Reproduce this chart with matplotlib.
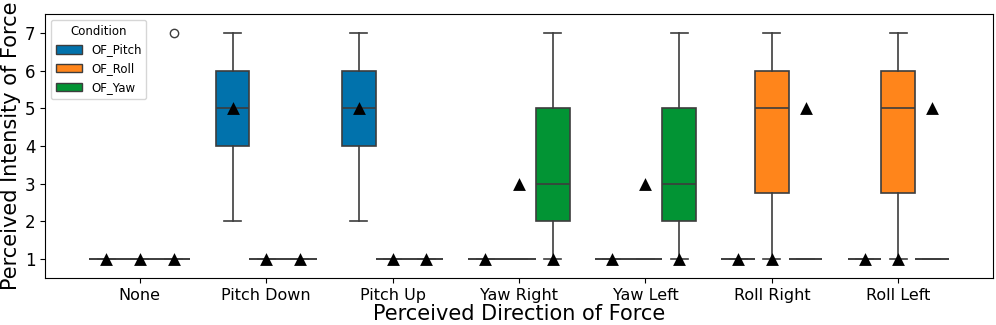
import matplotlib
matplotlib.use("Agg")
import matplotlib.pyplot as plt
from matplotlib.patches import Patch
import numpy as np

categories = ["None", "Pitch Down", "Pitch Up", "Yaw Right", "Yaw Left", "Roll Right", "Roll Left"]
conditions = ["OF_Pitch", "OF_Roll", "OF_Yaw"]
colors = ["#0172AC", "#FF851B", "#029434"]

# box stats per condition: (whislo, q1, med, q3, whishi) for each category
pitch_stats = [(1, 1, 1, 1, 1), (2, 4, 5, 6, 7), (2, 4, 5, 6, 7), (1, 1, 1, 1, 1),
               (1, 1, 1, 1, 1), (1, 1, 1, 1, 1), (1, 1, 1, 1, 1)]
roll_stats = [(1, 1, 1, 1, 1), (1, 1, 1, 1, 1), (1, 1, 1, 1, 1), (1, 1, 1, 1, 1),
              (1, 1, 1, 1, 1), (1, 2.75, 5, 6, 7), (1, 2.75, 5, 6, 7)]
yaw_stats = [(1, 1, 1, 1, 1), (1, 1, 1, 1, 1), (1, 1, 1, 1, 1), (1, 2, 3, 5, 7),
             (1, 2, 3, 5, 7), (1, 1, 1, 1, 1), (1, 1, 1, 1, 1)]
pitch_fliers = [[], [], [], [], [], [], []]
roll_fliers = [[], [], [], [], [], [], []]
yaw_fliers = [[7], [], [], [], [], [], []]

# mean markers as drawn, in slot order (left, middle, right) within each category
mean_slot_left = [1, 5, 5, 1, 1, 1, 1]
mean_slot_mid = [1, 1, 1, 3, 3, 1, 1]
mean_slot_right = [1, 1, 1, 1, 1, 5, 5]

fig = plt.figure(figsize=(9.96, 3.25), dpi=100)
ax = fig.add_axes([0.0452, 0.1446, 0.9518, 0.8124])

n_hue = 3
group_w = 0.8
bw = group_w / n_hue
offsets = [-bw, 0, bw]
line_col = "#3d3d3d"

all_stats = [pitch_stats, roll_stats, yaw_stats]
all_fliers = [pitch_fliers, roll_fliers, yaw_fliers]
x = np.arange(len(categories))
for h in range(n_hue):
    stats = []
    for i in range(len(categories)):
        lo, q1, med, q3, hi = all_stats[h][i]
        stats.append(dict(whislo=lo, q1=q1, med=med, q3=q3, whishi=hi,
                          fliers=all_fliers[h][i], label=""))
    ax.bxp(stats, positions=x + offsets[h], widths=bw, patch_artist=True,
           showfliers=True, manage_ticks=False,
           boxprops=dict(facecolor=colors[h], edgecolor=line_col, linewidth=1.2),
           medianprops=dict(color=line_col, linewidth=1.2),
           whiskerprops=dict(color=line_col, linewidth=1.2),
           capprops=dict(color=line_col, linewidth=1.2),
           flierprops=dict(marker="o", markerfacecolor="none", markeredgecolor=line_col,
                           markersize=6, markeredgewidth=1.0))

for vals, off in zip([mean_slot_left, mean_slot_mid, mean_slot_right], offsets):
    ax.scatter(x + off, vals, marker="^", s=85, color="black", zorder=5, linewidths=0)

ax.set_xlim(-0.75, 6.75)
ax.set_ylim(0.5, 7.5)
ax.set_xticks(x)
ax.set_xticklabels(categories, fontsize=11.5)
ax.set_yticks(range(1, 8))
ax.tick_params(axis="y", labelsize=12)
ax.set_xlabel("Perceived Direction of Force", fontsize=15, labelpad=1)
ax.set_ylabel("Perceived Intensity of Force", fontsize=15, labelpad=3)

handles = [Patch(facecolor=c, edgecolor=line_col, linewidth=1.0) for c in colors]
ax.legend(handles, conditions, title="Condition", loc="upper left", fontsize=8.5,
          title_fontsize=8.5, handlelength=2.2)

fig.savefig("out.png", dpi=100)
